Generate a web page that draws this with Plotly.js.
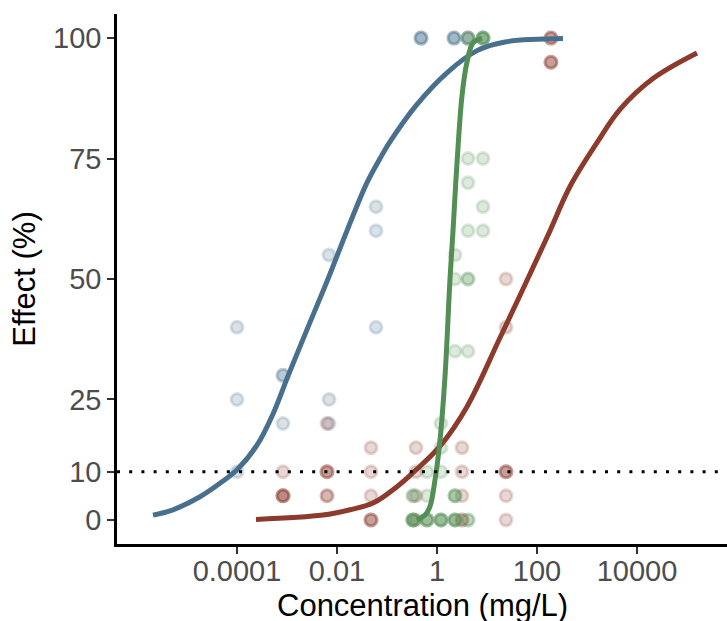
<!DOCTYPE html>
<html>
<head>
<meta charset="utf-8">
<script src="https://cdn.plot.ly/plotly-3.0.1.min.js"></script>
<style>html,body{margin:0;padding:0;background:#fff;}#chart{width:727px;height:621px;}</style>
</head>
<body>
<div id="chart"></div>
<script>
// ---- Data ----
// Observed points (replicates repeated where markers overlap)
var blueX = [0.0001,0.0001,0.0001, 0.000832,0.000832,0.000832, 0.00692,0.00692,0.00692,
             0.0603,0.0603,0.0603, 0.479,0.479,0.479, 2.19,2.19,2.19, 4.17,4.17];
var blueY = [40,25,10, 30,30,20, 55,25,20, 65,60,40, 100,100,100, 100,100,100, 100,100];

var redX = [0.000832,0.000832,0.000832,0.000832,0.000832,
            0.00631,0.00631,0.00631,0.00631,0.00631,0.00631,
            0.0479,0.0479,0.0479,0.0479,0.0479,0.0479,
            0.380,0.380,0.380,0.380,
            3.16,3.16,3.16,3.16,3.16,
            24.0,24.0,24.0,24.0,24.0,24.0,24.0,
            190,190,190,190,190,190];
var redY = [10,5,5,5,5,
            20,10,10,10,5,5,
            15,10,5,0,0,0,
            15,10,5,0,
            15,10,5,0,0,
            50,40,10,10,10,5,0,
            100,100,100,95,95,95];

var greenX = [0.331,0.331,0.331,0.331,0.331,0.331,0.331,
              0.631,0.631,0.631,0.631,0.631,0.631,
              1.20,1.20,1.20,1.20,1.20,1.20,1.20,
              2.29,2.29,2.29,2.29,2.29,2.29,2.29,2.29,2.29,2.29,
              4.17,4.17,4.17,4.17,4.17,4.17,4.17,4.17,4.17,4.17,
              8.32,8.32,8.32,8.32,8.32,8.32,8.32,8.32];
var greenY = [5,5,0,0,0,0,0,
              10,5,0,0,0,0,
              20,15,10,0,0,0,0,
              55,50,35,5,5,5,0,0,0,0,
              100,100,75,70,60,50,50,35,0,0,
              100,100,100,100,100,75,65,60];

// Fitted curves (read at points along each line)
var blueCurveX = [2.09e-6,5.25e-6,1.82e-5,4.57e-5,1.0e-4,2.51e-4,5.25e-4,1.05e-3,2.51e-3,6.31e-3,
                  0.0158,0.0398,0.0724,0.115,0.380,1.58,6.31,22.9,331];
var blueCurveY = [1.0,2.1,4.8,7.6,10.4,15.5,22.0,29.9,39.5,49.5,
                  60.0,70.0,75.0,78.5,86.0,92.8,97.4,99.2,99.9];

var redCurveX = [2.40e-4,5.25e-3,0.0182,0.0525,0.158,0.331,1.15,3.98,18.2,158,457,1585,4571,20893,158489];
var redCurveY = [0.1,1.0,2.1,3.5,6.9,9.8,15.3,23.5,37.8,58.6,69.2,78.3,85.2,91.6,96.9];

var greenCurveX = [0.398,0.575,0.724,0.912,1.15,1.45,1.82,2.09,2.51,3.16,3.98,5.25,7.94];
var greenCurveY = [0,1,2.8,8.3,16.6,30,50,60,74,88,95,99,100];

var xTickVals = [0.0001,0.01,1,100,10000];
var xTickText = ['0.0001','0.01','1','100','10000'];
var yTickVals = [0,10,25,50,75,100];
var thresholdY = 10;
var xTitle = 'Concentration (mg/L)';
var yTitle = 'Effect (%)';

// ---- Styles ----
var C_BLUE = '72,112,142', C_RED = '139,58,43', C_GREEN = '83,143,84';
function pts(x, y, c) {
  return {x: x, y: y, type: 'scatter', mode: 'markers', hoverinfo: 'skip', showlegend: false,
    marker: {size: 12, color: 'rgba(' + c + ',0.2)', line: {width: 3, color: 'rgba(' + c + ',0.2)'}}};
}
function curve(x, y, c) {
  return {x: x, y: y, type: 'scatter', mode: 'lines', hoverinfo: 'skip', showlegend: false,
    line: {color: 'rgb(' + c + ')', width: 5, shape: 'spline', smoothing: 1}};
}

var data = [
  pts(blueX, blueY, C_BLUE),
  pts(redX, redY, C_RED),
  pts(greenX, greenY, C_GREEN),
  curve(redCurveX, redCurveY, C_RED),
  curve(blueCurveX, blueCurveY, C_BLUE),
  curve(greenCurveX, greenCurveY, C_GREEN)
];

var FONT = 'Liberation Sans';
var layout = {
  width: 727, height: 621,
  margin: {l: 117, r: 0, t: 14, b: 77, pad: 0},
  paper_bgcolor: '#fff', plot_bgcolor: '#fff',
  font: {family: FONT},
  showlegend: false,
  xaxis: {
    type: 'log', range: [-6.4, 5.8],
    tickvals: xTickVals, ticktext: xTickText,
    showgrid: false, zeroline: false,
    showline: true, linecolor: '#000', linewidth: 2.7,
    ticks: 'outside', ticklen: 7, tickwidth: 2, tickcolor: '#333',
    ticklabelstandoff: -8,
    tickfont: {size: 29, color: '#4D4D4D', family: FONT},
    automargin: false
  },
  yaxis: {
    range: [-5, 105],
    tickvals: yTickVals,
    showgrid: false, zeroline: false,
    showline: true, linecolor: '#000', linewidth: 2.7,
    ticks: 'outside', ticklen: 7, tickwidth: 2, tickcolor: '#333',
    tickfont: {size: 29, color: '#4D4D4D', family: FONT},
    title: {text: yTitle, font: {size: 31, color: '#000', family: FONT}, standoff: 8.5},
    automargin: false
  },
  annotations: [{
    text: xTitle, xref: 'paper', yref: 'paper', x: 0.5, y: -0.0792,
    xanchor: 'center', yanchor: 'top', showarrow: false,
    font: {size: 31, color: '#000', family: FONT}
  }],
  shapes: [{
    type: 'line', xref: 'paper', x0: 0, x1: 1, yref: 'y', y0: thresholdY, y1: thresholdY,
    line: {color: '#000', width: 3, dash: '3px,9.2px'}, layer: 'above'
  }]
};

Plotly.newPlot('chart', data, layout, {staticPlot: true, displayModeBar: false});
</script>
</body>
</html>
